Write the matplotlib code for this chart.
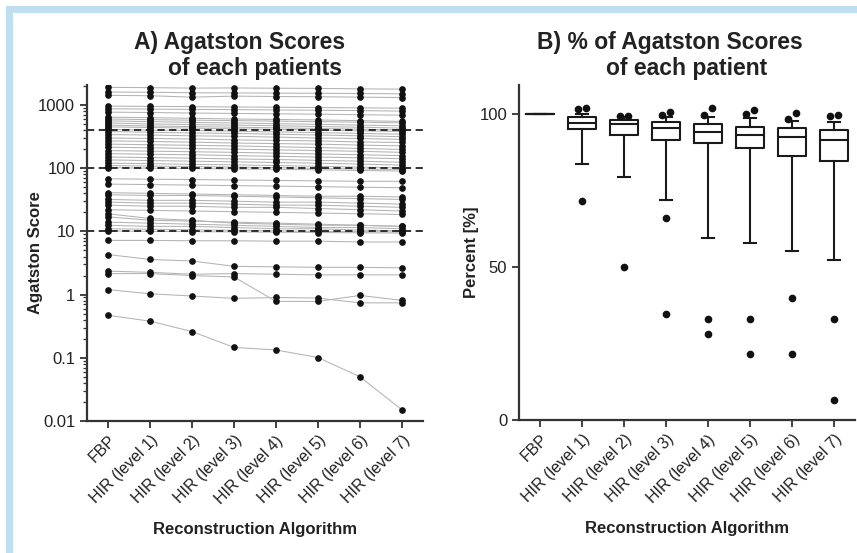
import matplotlib
matplotlib.use("Agg")
import matplotlib.pyplot as plt
from matplotlib.patches import Rectangle
from matplotlib.ticker import LogLocator, FixedLocator, NullFormatter
import numpy as np

plt.rcParams['font.family'] = ['Liberation Sans', 'DejaVu Sans']

categories = ["FBP", "HIR (level 1)", "HIR (level 2)", "HIR (level 3)",
              "HIR (level 4)", "HIR (level 5)", "HIR (level 6)", "HIR (level 7)"]

# Agatston score per patient (FBP, HIR level 1..7)
patient_scores = [
    [1900, 1880, 1850, 1860, 1840, 1830, 1800, 1780],
    [1600, 1590, 1560, 1550, 1540, 1530, 1520, 1500],
    [1420, 1400, 1330, 1380, 1360, 1350, 1330, 1310],
    [960, 950, 940, 930, 920, 910, 900, 890],
    [870, 860, 850, 845, 835, 825, 815, 800],
    [770, 760, 745, 735, 725, 715, 700, 690],
    [640, 630, 615, 600, 590, 580, 565, 550],
    [600, 585, 575, 565, 555, 545, 535, 520],
    [560, 545, 530, 520, 505, 495, 480, 470],
    [520, 500, 490, 480, 470, 455, 445, 430],
    [480, 465, 455, 445, 435, 425, 415, 400],
    [450, 440, 430, 420, 410, 400, 390, 380],
    [410, 400, 395, 385, 375, 365, 355, 345],
    [380, 370, 360, 355, 345, 335, 325, 315],
    [340, 335, 325, 320, 310, 300, 295, 285],
    [300, 295, 290, 280, 275, 270, 260, 255],
    [270, 265, 258, 250, 245, 240, 232, 225],
    [240, 235, 230, 225, 218, 212, 205, 198],
    [215, 210, 205, 200, 195, 190, 185, 178],
    [190, 186, 182, 178, 173, 168, 163, 158],
    [170, 166, 163, 158, 154, 150, 146, 141],
    [150, 147, 144, 140, 137, 133, 129, 124],
    [135, 132, 129, 126, 123, 120, 116, 112],
    [120, 118, 115, 113, 110, 107, 104, 101],
    [110, 108, 106, 104, 102, 99, 97, 95],
    [102, 100, 99, 97, 96, 94, 92, 90],
    [68, 67, 66, 65, 64, 63, 62, 62],
    [56, 55, 54, 53, 52, 51, 50, 49],
    [41, 40, 39, 38, 37, 36, 36, 35],
    [38, 37, 37, 36, 35, 34, 33, 32],
    [32, 31, 31, 30, 29, 29, 28, 27],
    [29, 28, 28, 27, 26, 26, 25, 24],
    [26, 25, 25, 24, 24, 23, 22, 21],
    [22, 21.5, 21, 20.5, 20, 19.5, 19, 18.5],
    [19, 16, 15, 13.5, 13, 12.5, 12.5, 12],
    [17, 15, 14.5, 14, 13.5, 13, 12.5, 12],
    [14, 13.5, 13, 12.5, 12, 11.5, 11.5, 11],
    [12.5, 12, 12, 11.5, 11, 11, 10.5, 10.2],
    [11, 10.8, 10.6, 10.4, 10.2, 10, 9.9, 9.8],
    [10.2, 10, 9.9, 9.8, 9.7, 9.6, 9.5, 9.4],
    [7.2, 7.2, 7.1, 7.1, 7.0, 7.0, 6.8, 6.8],
    [4.3, 3.6, 3.4, 2.8, 2.75, 2.7, 2.7, 2.65],
    [2.35, 2.25, 2.1, 2.15, 2.1, 2.05, 2.05, 2.05],
    [2.15, 2.15, 2.0, 1.9, 0.78, 0.78, 0.97, 0.81],
    [1.2, 1.03, 0.95, 0.87, 0.9, 0.88, 0.74, 0.74],
    [0.47, 0.38, 0.26, 0.146, 0.133, 0.101, 0.050, 0.015],
]
risk_thresholds = [10, 100, 400]

# Percent of FBP score (box plot statistics per algorithm)
pct_q1 = [100, 95.1, 93.2, 91.4, 90.5, 88.8, 86.4, 84.7]
pct_median = [100, 97.0, 96.7, 95.4, 94.0, 93.0, 92.4, 91.4]
pct_q3 = [100, 98.9, 98.0, 97.3, 96.6, 95.7, 95.4, 94.9]
pct_whisk_lo = [100, 83.7, 79.5, 71.9, 59.4, 57.9, 55.3, 52.3]
pct_whisk_hi = [100, 100.0, 98.9, 99.0, 98.9, 98.6, 97.8, 97.3]
pct_outliers_high = [[], [101.5, 102.1], [99.3, 99.5], [99.7, 100.8],
                     [99.7, 102.1], [100.0, 101.3], [98.5, 100.2], [99.3, 99.6]]
pct_outliers_low = [[], [71.6], [49.9], [65.9, 34.6], [33.0, 28.1],
                    [33.0, 21.6], [39.8, 21.6], [33.0, 6.5]]

W, H = 857, 553
fig = plt.figure(figsize=(W / 100, H / 100), dpi=100)
fig.patch.set_facecolor("white")

# frame
frame_col = "#bfdeef"
fig.patches.append(Rectangle((6 / W, 0), 7 / W, 1 - 6 / H, transform=fig.transFigure,
                             facecolor=frame_col, edgecolor="none", zorder=0))
fig.patches.append(Rectangle((6 / W, 1 - 12.5 / H), 1 - 6 / W, 6.5 / H, transform=fig.transFigure,
                             facecolor=frame_col, edgecolor="none", zorder=0))

txt = "#222222"
spine_col = "#333333"
x = np.arange(len(categories))


def style_axes(ax):
    for s in ["top", "right"]:
        ax.spines[s].set_visible(False)
    for s in ["left", "bottom"]:
        ax.spines[s].set_linewidth(1.6)
        ax.spines[s].set_color(spine_col)
    ax.set_facecolor("none")
    ax.tick_params(axis="both", which="major", length=5, width=1.3, color=spine_col,
                   labelsize=12, labelcolor=txt)
    ax.tick_params(axis="x", which="major", labelsize=11.5)
    ax.tick_params(axis="y", which="minor", length=3, width=0.9, color=spine_col)
    ax.set_xticks(x)
    ax.set_xticklabels(categories, rotation=45, ha="right", rotation_mode="anchor")
    ax.set_xlim(-0.5, 7.5)
    ax.set_xlabel("Reconstruction Algorithm", fontsize=12, fontweight="bold", color=txt,
                  labelpad=11)


# ---- Panel A
axA = fig.add_axes([87 / W, 1 - 421 / H, (423 - 87) / W, (421 - 85) / H])
for row in patient_scores:
    axA.plot(x, row, "-", color="#b3b3b3", lw=0.75, zorder=1)
    axA.plot(x, row, "o", color="#111111", ms=3.8, mec="#111111", zorder=3)
for t in risk_thresholds:
    axA.axhline(t, color="#222222", lw=1.3, ls=(0, (4, 2.5)), zorder=2)
axA.set_yscale("log")
axA.set_ylim(0.01, 2070)
axA.yaxis.set_major_locator(FixedLocator([0.01, 0.1, 1, 10, 100, 1000]))
axA.set_yticklabels(["0.01", "0.1", "1", "10", "100", "1000"])
axA.yaxis.set_minor_locator(LogLocator(base=10, subs=np.arange(2, 10), numticks=20))
axA.yaxis.set_minor_formatter(NullFormatter())
style_axes(axA)
axA.set_ylabel("Agatston Score", fontsize=12, fontweight="bold", color=txt)
axA.yaxis.set_label_coords(-0.13, 0.5)

# ---- Panel B
axB = fig.add_axes([519 / W, 1 - 420 / H, (855 - 519) / W, (420 - 85) / H])
stats = []
for i in range(len(categories)):
    stats.append(dict(med=pct_median[i], q1=pct_q1[i], q3=pct_q3[i],
                      whislo=pct_whisk_lo[i], whishi=pct_whisk_hi[i], fliers=[]))
lp = dict(color="#1a1a1a", linewidth=1.5)
axB.bxp(stats, positions=x, widths=0.69, capwidths=0.29, showfliers=False,
        boxprops=lp, whiskerprops=lp, capprops=lp, medianprops=lp)
for i in range(len(categories)):
    hi = pct_outliers_high[i]
    offs = [-0.09, 0.09] if len(hi) == 2 else [0.0] * len(hi)
    for v, o in zip(hi, offs):
        axB.plot(x[i] + o, v, "o", color="#111111", ms=4.5, zorder=4)
    for v in pct_outliers_low[i]:
        axB.plot(x[i], v, "o", color="#111111", ms=4.5, zorder=4)
axB.set_ylim(0, 109.5)
axB.set_yticks([0, 50, 100])
style_axes(axB)
axB.set_ylabel("Percent [%]", fontsize=12, fontweight="bold", color=txt)
axB.yaxis.set_label_coords(-0.12, 0.5)

# titles
fig.text(240 / W, 1 - 42 / H, "A) Agatston Scores", ha="center", va="center",
         fontsize=16.5, fontweight="bold", color=txt)
fig.text(255 / W, 1 - 69 / H, "of each patients", ha="center", va="center",
         fontsize=16.5, fontweight="bold", color=txt)
fig.text(670 / W, 1 - 42 / H, "B) % of Agatston Scores", ha="center", va="center",
         fontsize=16.5, fontweight="bold", color=txt)
fig.text(687 / W, 1 - 69 / H, "of each patient", ha="center", va="center",
         fontsize=16.5, fontweight="bold", color=txt)

fig.savefig("out.png", dpi=100, facecolor=fig.get_facecolor())
